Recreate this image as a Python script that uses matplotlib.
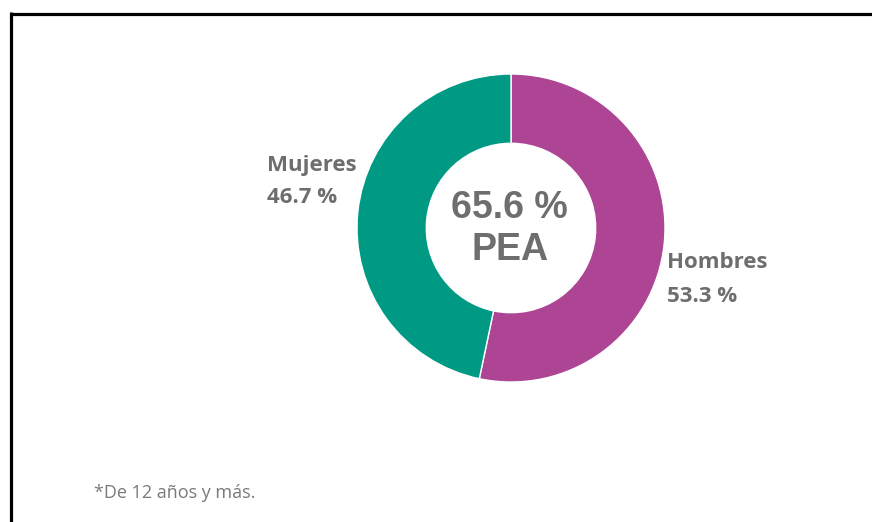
import matplotlib.pyplot as plt
from matplotlib.lines import Line2D

# PEA por sexo
labels = ['Hombres', 'Mujeres']
shares = [53.3, 46.7]
colors = ['#ae4594', '#009a84']
pea_total = 65.6

W, H = 872, 522
fig = plt.figure(figsize=(W / 100, H / 100), dpi=100)
fig.patch.set_facecolor('white')

# marco negro (arriba e izquierda)
fig.add_artist(Line2D([10.5 / W, 1], [1 - 13.5 / H, 1 - 13.5 / H], color='black', lw=2.3,
                      transform=fig.transFigure, solid_capstyle='butt'))
fig.add_artist(Line2D([10.5 / W, 10.5 / W], [0, 1 - 12 / H], color='black', lw=2.3,
                      transform=fig.transFigure, solid_capstyle='butt'))

# dona
cx, cy, r = 511, 228, 154
ax = fig.add_axes([(cx - r) / W, (H - cy - r) / H, 2 * r / W, 2 * r / H])
ax.pie(shares, colors=colors, startangle=90, counterclock=False, radius=1,
       wedgeprops=dict(width=0.45, edgecolor='white', linewidth=1))
ax.set_xlim(-1, 1)
ax.set_ylim(-1, 1)
ax.set_aspect('equal')
ax.axis('off')

gray = '#6e6e6e'
font = 'Open Sans'

def px(x, y):
    return x / W, 1 - y / H

fig.text(*px(509, 208), f'{pea_total} %', ha='center', va='center', fontsize=27,
         fontweight='bold', color=gray, family='Liberation Sans')
fig.text(*px(510, 250), 'PEA', ha='center', va='center', fontsize=27,
         fontweight='bold', color=gray, family='Liberation Sans')

fig.text(*px(267, 165), labels[1], ha='left', va='center', fontsize=16,
         fontweight='bold', color=gray, family=font)
fig.text(*px(267, 197), f'{shares[1]} %', ha='left', va='center', fontsize=16,
         fontweight='bold', color=gray, family=font)
fig.text(*px(667, 263), labels[0], ha='left', va='center', fontsize=16,
         fontweight='bold', color=gray, family=font)
fig.text(*px(667, 296), f'{shares[0]} %', ha='left', va='center', fontsize=16,
         fontweight='bold', color=gray, family=font)

fig.text(*px(94, 493), '*De 12 años y más.', ha='left', va='center', fontsize=13,
         color='#7a7a7a', family=font)

fig.savefig('out.png', dpi=100, facecolor='white')
